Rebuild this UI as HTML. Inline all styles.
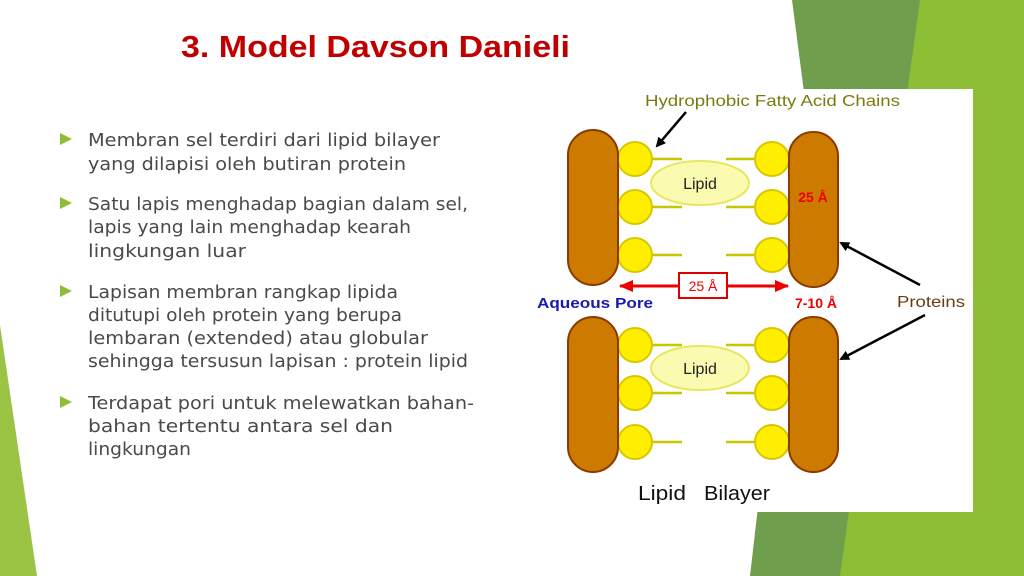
<!DOCTYPE html>
<html><head><meta charset="utf-8"><style>
html,body{margin:0;padding:0;background:#fff;}
svg{display:block;}
</style></head><body>
<svg width="1024" height="576" viewBox="0 0 1024 576" xmlns="http://www.w3.org/2000/svg">
<defs>
<marker id="ab" markerWidth="10" markerHeight="10" refX="8" refY="5" orient="auto" markerUnits="userSpaceOnUse"><path d="M0,0 L10,5 L0,10 z" fill="#000"/></marker>
<marker id="ar" markerWidth="14" markerHeight="12" refX="13" refY="6" orient="auto" markerUnits="userSpaceOnUse"><path d="M0,0 L14,6 L0,12 z" fill="#e00"/></marker>
</defs>
<rect width="1024" height="576" fill="#fff"/>
<polygon points="0,325 37,576 0,576" fill="#9bc445"/>
<polygon points="792,0 1024,0 1024,576 750,576 805,100" fill="#6f9e4c"/>
<polygon points="920,0 1024,0 1024,576 840,576" fill="#8dbf36"/>
<text x="181" y="57" font-family="Liberation Sans, sans-serif" font-weight="bold" font-size="31" fill="#c00000" textLength="389" lengthAdjust="spacingAndGlyphs">3. Model Davson Danieli</text>
<g fill="#8dbf36">
<polygon points="60,133 72,139 60,145"/>
<polygon points="60,197 72,203 60,209"/>
<polygon points="60,285 72,291 60,297"/>
<polygon points="60,396 72,402 60,408"/>
</g>
<g font-family="DejaVu Sans, sans-serif" font-size="17.5" fill="#4a4a4a">
<text x="88" y="146" textLength="352" lengthAdjust="spacingAndGlyphs">Membran sel terdiri dari lipid bilayer</text>
<text x="88" y="170" textLength="318" lengthAdjust="spacingAndGlyphs">yang dilapisi oleh butiran protein</text>
<text x="88" y="210" textLength="380" lengthAdjust="spacingAndGlyphs">Satu lapis menghadap bagian dalam sel,</text>
<text x="88" y="233" textLength="323" lengthAdjust="spacingAndGlyphs">lapis yang lain menghadap kearah</text>
<text x="88" y="257" textLength="158" lengthAdjust="spacingAndGlyphs">lingkungan luar</text>
<text x="88" y="298" textLength="310" lengthAdjust="spacingAndGlyphs">Lapisan membran rangkap lipida</text>
<text x="88" y="321" textLength="314" lengthAdjust="spacingAndGlyphs">ditutupi oleh protein yang berupa</text>
<text x="88" y="344" textLength="340" lengthAdjust="spacingAndGlyphs">lembaran (extended) atau globular</text>
<text x="88" y="367" textLength="380" lengthAdjust="spacingAndGlyphs">sehingga tersusun lapisan : protein lipid</text>
<text x="88" y="409" textLength="386" lengthAdjust="spacingAndGlyphs">Terdapat pori untuk melewatkan bahan-</text>
<text x="88" y="432" textLength="305" lengthAdjust="spacingAndGlyphs">bahan tertentu antara sel dan</text>
<text x="88" y="455" textLength="103" lengthAdjust="spacingAndGlyphs">lingkungan</text>
</g>
<rect x="535" y="89" width="438" height="423" fill="#fff"/>
<g stroke="#c8c800" stroke-width="2.5">
<line x1="650" y1="159" x2="682" y2="159"/><line x1="650" y1="207" x2="682" y2="207"/><line x1="650" y1="255" x2="682" y2="255"/>
<line x1="650" y1="345" x2="682" y2="345"/><line x1="650" y1="393" x2="682" y2="393"/><line x1="650" y1="442" x2="682" y2="442"/>
<line x1="726" y1="159" x2="757" y2="159"/><line x1="726" y1="207" x2="757" y2="207"/><line x1="726" y1="255" x2="757" y2="255"/>
<line x1="726" y1="345" x2="757" y2="345"/><line x1="726" y1="393" x2="757" y2="393"/><line x1="726" y1="442" x2="757" y2="442"/>
</g>
<g fill="#ffee00" stroke="#d6c800" stroke-width="2">
<circle cx="635" cy="159" r="17"/><circle cx="635" cy="207" r="17"/><circle cx="635" cy="255" r="17"/>
<circle cx="635" cy="345" r="17"/><circle cx="635" cy="393" r="17"/><circle cx="635" cy="442" r="17"/>
<circle cx="772" cy="159" r="17"/><circle cx="772" cy="207" r="17"/><circle cx="772" cy="255" r="17"/>
<circle cx="772" cy="345" r="17"/><circle cx="772" cy="393" r="17"/><circle cx="772" cy="442" r="17"/>
</g>
<g fill="#cc7a00" stroke="#8b3a00" stroke-width="2">
<rect x="568" y="130" width="50" height="155" rx="25"/>
<rect x="789" y="132" width="49" height="155" rx="24"/>
<rect x="568" y="317" width="50" height="155" rx="25"/>
<rect x="789" y="317" width="49" height="155" rx="24"/>
</g>
<g fill="#fafab0" stroke="#e8e860" stroke-width="2">
<ellipse cx="700" cy="183" rx="49" ry="22"/>
<ellipse cx="700" cy="368" rx="49" ry="22"/>
</g>
<g font-family="Liberation Sans, sans-serif" font-size="16" fill="#222" text-anchor="middle">
<text x="700" y="189">Lipid</text><text x="700" y="374">Lipid</text>
</g>
<line x1="640" y1="286" x2="679" y2="286" stroke="#e00" stroke-width="3"/>
<line x1="640" y1="286" x2="620" y2="286" stroke="#e00" stroke-width="3" marker-end="url(#ar)"/>
<line x1="727" y1="286" x2="788" y2="286" stroke="#e00" stroke-width="3" marker-end="url(#ar)"/>
<rect x="679" y="273" width="48" height="25" fill="#fff" stroke="#d00" stroke-width="2"/>
<g font-family="Liberation Sans, sans-serif" font-weight="bold" font-size="14" fill="#e00">
<text x="703" y="291" text-anchor="middle" font-weight="normal">25 Å</text>
<text x="813" y="202" text-anchor="middle">25 Å</text>
<text x="816" y="308" text-anchor="middle">7-10 Å</text>
</g>
<text x="537" y="308" font-family="Liberation Sans, sans-serif" font-weight="bold" font-size="15" fill="#1a1ab0" textLength="116" lengthAdjust="spacingAndGlyphs">Aqueous Pore</text>
<text x="897" y="307" font-family="Liberation Sans, sans-serif" font-size="16" fill="#6b3a10" textLength="68" lengthAdjust="spacingAndGlyphs">Proteins</text>
<text x="645" y="106" font-family="Liberation Sans, sans-serif" font-size="16" fill="#7a7a10" textLength="255" lengthAdjust="spacingAndGlyphs">Hydrophobic Fatty Acid Chains</text>
<g font-family="Liberation Sans, sans-serif" font-size="20" fill="#111">
<text x="638" y="500" textLength="48" lengthAdjust="spacingAndGlyphs">Lipid</text>
<text x="704" y="500" textLength="66" lengthAdjust="spacingAndGlyphs">Bilayer</text>
</g>
<g stroke="#000" stroke-width="2.5">
<line x1="686" y1="112" x2="657" y2="146" marker-end="url(#ab)"/>
<line x1="920" y1="285" x2="841" y2="243" marker-end="url(#ab)"/>
<line x1="925" y1="315" x2="841" y2="359" marker-end="url(#ab)"/>
</g>
</svg>
</body></html>
